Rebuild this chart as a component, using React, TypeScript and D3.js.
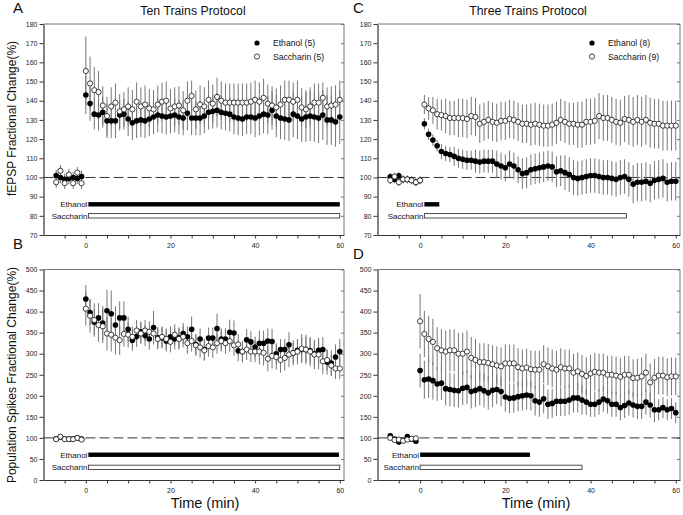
import React, { useEffect, useRef } from "react";
import * as d3 from "d3";

const FONT = "'Liberation Sans', Arial, Helvetica, sans-serif";

// ---- Panel A: Ten Trains, fEPSP ----
const aBaseTimes = [-7, -6, -5, -4, -3, -2, -1];
const aPostTimes = d3.range(0, 61);
const aEthBase = [101, 100, 99, 99.5, 100, 99.5, 100.5];
const aSacBase = [97.5, 103.5, 97, 101.5, 97, 102.5, 97];
const aEthBaseSem = [3, 3, 3, 3, 3, 3, 3];
const aSacBaseSem = [3, 3, 3, 3, 3, 3, 3];
const aEthPost = [143, 138.5, 133, 132.5, 134, 129.5, 129.5, 129.5, 132.5, 133, 130.5, 128.5, 129.5, 130, 129.5, 130.5, 131.5, 132.5, 132, 131.5, 132, 132.5, 131.5, 131, 133.5, 131, 131, 131, 132, 134, 134.5, 135, 134, 133.5, 133, 131.5, 131, 130.5, 131.5, 131.5, 131, 132, 133, 132.5, 135, 132, 131, 130.5, 130, 133, 132, 130.5, 131.5, 132, 131.5, 131, 132.5, 130, 130, 129, 131.5];
const aSacPost = [155.5, 149, 145.5, 144.5, 137.5, 132, 137, 139, 134.5, 135.5, 137, 135.5, 139.5, 137, 138, 136, 135.5, 138, 139.5, 140, 136, 137, 137.5, 135, 140, 142.5, 135.5, 138, 137, 140.5, 138.5, 142, 140, 139, 139, 139, 139, 139, 139, 139.5, 140.5, 139.5, 141.5, 138.5, 137.5, 136.5, 138, 140.5, 140.5, 139.5, 140.5, 136.5, 135.5, 137, 139, 139, 141.5, 137, 137.5, 138, 140.5];
const aEthSem = [10, 9, 8, 8, 8, 9, 9, 9, 8, 8, 9, 9, 9, 9, 9, 9, 9, 9, 9, 9, 9, 9, 9, 9, 9, 9, 9, 9, 9, 9, 9, 9, 9, 9, 9, 9, 9, 9, 9, 9, 10, 10, 10, 10, 10, 11, 11, 11, 11, 12, 12, 12, 13, 13, 13, 13, 13, 13, 13, 13, 14];
const aSacSem = [18, 14, 12, 11, 10, 10, 10, 10, 9, 9, 10, 10, 10, 10, 10, 10, 10, 10, 10, 10, 10, 10, 10, 10, 10, 8, 10, 10, 10, 10, 10, 10, 10, 10, 10, 10, 10, 10, 10, 10, 10, 10, 10, 10, 10, 10, 10, 10, 10, 10, 10, 10, 10, 10, 10, 10, 8, 10, 10, 10, 10];

// ---- Panel C: Three Trains, fEPSP ----
const cBaseTimes = [-7, -6, -5, -4, -3, -2, -1, 0];
const cPostTimes = d3.range(1, 61);
const cEthBase = [100.3, 99, 100.8, 99, 99, 98.5, 97.5, 98.5];
const cSacBase = [98.5, 100.5, 97.5, 99, 99, 98.5, 97.5, 98.5];
const cEthBaseSem = [2, 2, 2, 2, 2, 2, 2, 2];
const cSacBaseSem = [2, 2, 2, 2, 2, 2, 2, 2];
const cEthPost = [128, 122.5, 119.5, 116.5, 113.5, 112.5, 112, 111, 110, 109.5, 109, 109, 108.5, 108, 108.5, 108.5, 108.5, 107, 106, 105, 107, 106, 104, 102, 102.5, 104, 104.5, 105, 105.5, 106, 105.5, 103, 103.5, 102.5, 101.5, 100, 99.5, 100, 100.5, 101, 101, 100.5, 100, 100, 99.5, 99, 100, 100.5, 99, 96.5, 97.5, 97.5, 98, 97, 98.5, 99, 99.5, 97.5, 98, 98];
const cSacPost = [138, 136, 135, 133, 132.5, 132, 131, 131, 131, 131, 130.5, 132, 131.5, 128, 129, 130, 129, 128.5, 129.5, 129.5, 130.5, 130, 129, 128, 128, 127.5, 128, 127.5, 127, 127, 127.5, 128.5, 130, 129, 128, 128, 127.5, 127.5, 129, 129, 129.5, 132, 131, 131, 130, 129, 128.5, 130.5, 130, 129, 130, 129, 130, 128.5, 128, 128, 127, 127, 127, 127];
const cEthSem = [3, 3, 3, 3, 4, 4, 4, 5, 5, 5, 5, 5, 6, 6, 6, 6, 6, 7, 7, 7, 7, 7, 7, 8, 8, 8, 8, 8, 8, 8, 8, 8, 8, 9, 9, 9, 9, 9, 9, 9, 9, 9, 9, 9, 9, 9, 9, 9, 9, 10, 10, 10, 10, 10, 10, 10, 10, 10, 10, 10];
const cSacSem = [5, 6, 7, 8, 8, 9, 9, 9, 10, 10, 10, 10, 10, 10, 10, 10, 10, 10, 10, 10, 10, 10, 10, 10, 10, 11, 11, 11, 11, 11, 11, 11, 11, 11, 11, 11, 12, 12, 12, 12, 12, 12, 12, 12, 12, 12, 12, 12, 13, 13, 13, 13, 13, 13, 13, 13, 13, 13, 13, 13];

// ---- Panel B: Ten Trains, population spikes ----
const bBaseTimes = [-7, -6, -5, -4, -3, -2, -1];
const bPostTimes = d3.range(0, 61);
const bEthBase = [98, 102, 98, 97, 98, 100, 97];
const bSacBase = [97, 103, 97, 97, 97, 100, 96];
const bEthBaseSem = [5, 5, 5, 5, 5, 5, 5];
const bSacBaseSem = [5, 5, 5, 5, 5, 5, 5];
const bEthPost = [430, 398, 375, 385, 373, 402, 395, 368, 385, 385, 358, 332, 341, 352, 343, 335, 362, 338, 338, 330, 340, 335, 338, 348, 340, 358, 322, 335, 310, 337, 337, 360, 335, 335, 351, 349, 307, 305, 333, 328, 316, 325, 325, 330, 329, 300, 310, 310, 321, 302, 308, 310, 310, 307, 300, 308, 310, 280, 278, 292, 305];
const bSacPost = [407, 390, 380, 368, 365, 348, 345, 338, 332, 347, 345, 340, 355, 348, 355, 352, 348, 335, 340, 335, 328, 345, 335, 340, 325, 330, 320, 315, 308, 318, 315, 325, 330, 325, 330, 320, 322, 305, 310, 305, 305, 305, 302, 288, 295, 292, 285, 290, 298, 302, 305, 312, 310, 305, 298, 298, 282, 285, 272, 265, 265];
const bEthSem = [33, 30, 30, 35, 40, 50, 55, 45, 40, 40, 30, 25, 25, 25, 25, 25, 40, 25, 25, 25, 25, 25, 25, 25, 25, 30, 25, 25, 25, 25, 25, 35, 25, 25, 30, 30, 25, 25, 25, 25, 25, 30, 30, 30, 30, 25, 25, 25, 30, 25, 25, 30, 30, 30, 30, 30, 30, 30, 30, 30, 30];
const bSacSem = [40, 40, 40, 40, 40, 40, 40, 40, 35, 30, 30, 25, 25, 25, 25, 25, 25, 25, 25, 25, 25, 25, 25, 25, 25, 25, 25, 25, 25, 25, 25, 25, 25, 25, 25, 25, 25, 25, 25, 25, 25, 30, 30, 30, 30, 30, 30, 30, 30, 30, 30, 35, 35, 35, 35, 35, 30, 25, 25, 25, 25];

// ---- Panel D: Three Trains, population spikes ----
const dBaseTimes = [-7, -6, -5, -4, -3, -2, -1];
const dPostTimes = d3.range(0, 61);
const dEthBase = [105, 97, 90, 95, 103, 97, 92];
const dSacBase = [100, 95, 96, 93, 96, 98, 99];
const dEthBaseSem = [5, 5, 5, 5, 5, 5, 5];
const dSacBaseSem = [5, 5, 5, 5, 5, 5, 5];
const dEthPost = [260, 238, 240, 236, 228, 230, 217, 215, 213, 212, 218, 220, 210, 213, 217, 212, 207, 213, 215, 210, 197, 194, 195, 198, 200, 202, 200, 188, 185, 193, 180, 182, 187, 187, 187, 190, 195, 195, 190, 185, 180, 180, 185, 192, 188, 180, 180, 172, 177, 183, 178, 175, 175, 185, 178, 167, 167, 172, 167, 170, 160];
const dSacPost = [377, 347, 335, 328, 313, 308, 305, 308, 308, 300, 300, 305, 290, 285, 280, 280, 278, 275, 272, 270, 277, 277, 277, 268, 265, 267, 263, 262, 262, 275, 270, 265, 262, 268, 265, 265, 255, 258, 252, 247, 253, 257, 255, 255, 250, 250, 248, 245, 250, 250, 242, 243, 246, 255, 232, 243, 248, 248, 244, 246, 246];
const dEthSem = [40, 45, 45, 45, 40, 40, 40, 40, 40, 40, 40, 40, 40, 40, 40, 40, 40, 40, 35, 35, 35, 35, 35, 35, 35, 35, 35, 35, 35, 35, 35, 35, 35, 35, 35, 35, 35, 35, 35, 30, 30, 30, 30, 30, 30, 30, 30, 30, 30, 30, 30, 30, 30, 30, 30, 30, 25, 25, 25, 25, 25];
const dSacSem = [65, 55, 55, 55, 50, 50, 50, 50, 50, 50, 50, 50, 50, 50, 45, 45, 45, 45, 45, 45, 45, 45, 45, 45, 45, 45, 45, 45, 45, 45, 45, 45, 45, 45, 45, 45, 45, 45, 45, 45, 45, 45, 45, 45, 45, 45, 45, 45, 45, 45, 45, 45, 45, 45, 45, 45, 45, 45, 45, 45, 45];

// treatment bars: [start, end] in minutes
const aEthBar = [0.6, 60];
const aSacBar = [0.6, 60];
const cEthBar = [1, 4.5];
const cSacBar = [1, 48.4];
const bEthBar = [0.6, 59.8];
const bSacBar = [0.6, 60];
const dEthBar = [0, 25.8];
const dSacBar = [0, 38];

const fepspTicks = d3.range(70, 181, 10);
const spikeTicks = d3.range(0, 501, 50);
const timeTicks = d3.range(-5, 61, 5);

const makeSeries = (bt, pt, base, post, baseSem, postSem) =>
  bt.concat(pt).map((t, i) => ({
    t,
    m: base.concat(post)[i],
    s: baseSem.concat(postSem)[i],
  }));

const Panel = (props) => {
  const ref = useRef(null);

  useEffect(() => {
    const g = d3.select(ref.current);
    g.selectAll("*").remove();

    const x = d3.scaleLinear().domain([-10, 61]).range([props.left, props.right]);
    const y = d3.scaleLinear().domain(props.yDomain).range([props.bottom, props.top]);

    // frame: top + right in gray
    g.append("line")
      .attr("x1", props.left).attr("x2", props.right)
      .attr("y1", props.top).attr("y2", props.top)
      .attr("stroke", "#777").attr("stroke-width", 1);
    g.append("line")
      .attr("x1", props.right).attr("x2", props.right)
      .attr("y1", props.top).attr("y2", props.bottom)
      .attr("stroke", "#777").attr("stroke-width", 1);

    // right inward ticks
    g.append("g")
      .attr("transform", `translate(${props.right},0)`)
      .call(d3.axisLeft(y).tickValues(props.yTicks).tickSize(3).tickSizeOuter(0).tickFormat(""))
      .call((a) => a.select(".domain").remove())
      .call((a) => a.selectAll("line").attr("stroke", "#777"));

    // left axis
    const yAxis = g.append("g")
      .attr("transform", `translate(${props.left},0)`)
      .call(d3.axisLeft(y).tickValues(props.yTicks).tickSize(4).tickPadding(2).tickSizeOuter(0));
    yAxis.select(".domain").attr("stroke", "#333").attr("stroke-width", 1.2);
    yAxis.selectAll("line").attr("stroke", "#333");
    yAxis.selectAll("text")
      .attr("font-family", FONT).attr("font-size", 7).attr("fill", "#222");
    yAxis.attr("font-family", null).attr("font-size", null);

    // bottom axis
    const xAxis = g.append("g")
      .attr("transform", `translate(0,${props.bottom})`)
      .call(
        d3.axisBottom(x).tickValues(timeTicks).tickSize(3.5).tickPadding(5).tickSizeOuter(0)
          .tickFormat((d) => (d % 20 === 0 && d >= 0 ? String(d) : ""))
      );
    xAxis.select(".domain").attr("stroke", "#333").attr("stroke-width", 1.2);
    xAxis.selectAll("line").attr("stroke", "#333");
    xAxis.selectAll("text")
      .attr("font-family", FONT).attr("font-size", 7).attr("fill", "#222");
    xAxis.attr("font-family", null).attr("font-size", null);

    // dashed reference at 100%
    g.append("line")
      .attr("x1", props.left).attr("x2", props.right)
      .attr("y1", y(100)).attr("y2", y(100))
      .attr("stroke", "#333").attr("stroke-width", 1)
      .attr("stroke-dasharray", "10,4");

    // treatment bars
    props.bars.forEach((b) => {
      const yc = y(b.level);
      g.append("rect")
        .attr("x", x(b.range[0])).attr("width", x(b.range[1]) - x(b.range[0]))
        .attr("y", yc - 2.2).attr("height", 4.4)
        .attr("fill", b.filled ? "#000" : "#fff")
        .attr("stroke", "#222").attr("stroke-width", b.filled ? 0 : 0.8);
      g.append("text")
        .attr("x", x(b.range[0]) - 1).attr("y", yc + 2.8)
        .attr("text-anchor", "end")
        .attr("font-family", FONT).attr("font-size", 8).attr("fill", "#111")
        .text(b.label);
    });

    // error bars
    const all = props.eth.concat(props.sac);
    g.append("g").selectAll("line").data(all).enter().append("line")
      .attr("x1", (d) => x(d.t)).attr("x2", (d) => x(d.t))
      .attr("y1", (d) => y(d.m - d.s)).attr("y2", (d) => y(d.m + d.s))
      .attr("stroke", "#777").attr("stroke-width", 1);

    // points
    g.append("g").selectAll("circle").data(props.eth).enter().append("circle")
      .attr("cx", (d) => x(d.t)).attr("cy", (d) => y(d.m)).attr("r", 2.8)
      .attr("fill", "#000");
    g.append("g").selectAll("circle").data(props.sac).enter().append("circle")
      .attr("cx", (d) => x(d.t)).attr("cy", (d) => y(d.m)).attr("r", 2.6)
      .attr("fill", "#fff").attr("stroke", "#111").attr("stroke-width", 0.8);

    // legend
    if (props.legend) {
      const lg = g.append("g");
      props.legend.forEach((l, i) => {
        const ly = props.top + 19 + i * 13.5;
        lg.append("circle")
          .attr("cx", props.legendX).attr("cy", ly).attr("r", 2.6)
          .attr("fill", l.filled ? "#000" : "#fff")
          .attr("stroke", "#111").attr("stroke-width", l.filled ? 0 : 0.8);
        lg.append("text")
          .attr("x", props.legendX + 16).attr("y", ly + 3.2)
          .attr("font-family", FONT).attr("font-size", 8.6).attr("fill", "#111")
          .text(l.label);
      });
    }
  }, [props]);

  return <g ref={ref} />;
};

const App = () => {
  const serA = {
    eth: makeSeries(aBaseTimes, aPostTimes, aEthBase, aEthPost, aEthBaseSem, aEthSem),
    sac: makeSeries(aBaseTimes, aPostTimes, aSacBase, aSacPost, aSacBaseSem, aSacSem),
  };
  const serC = {
    eth: makeSeries(cBaseTimes, cPostTimes, cEthBase, cEthPost, cEthBaseSem, cEthSem),
    sac: makeSeries(cBaseTimes, cPostTimes, cSacBase, cSacPost, cSacBaseSem, cSacSem),
  };
  const serB = {
    eth: makeSeries(bBaseTimes, bPostTimes, bEthBase, bEthPost, bEthBaseSem, bEthSem),
    sac: makeSeries(bBaseTimes, bPostTimes, bSacBase, bSacPost, bSacBaseSem, bSacSem),
  };
  const serD = {
    eth: makeSeries(dBaseTimes, dPostTimes, dEthBase, dEthPost, dEthBaseSem, dEthSem),
    sac: makeSeries(dBaseTimes, dPostTimes, dSacBase, dSacPost, dSacBaseSem, dSacSem),
  };

  const letter = { fontFamily: FONT, fontSize: 15, fill: "#111" };
  const title = { fontFamily: FONT, fontSize: 12.3, fill: "#111" };
  const axisLabel = { fontFamily: FONT, fontSize: 12, fill: "#111" };

  return (
    <svg
      width={683}
      height={515}
      style={{ position: "absolute", left: 0, top: 0, background: "#fff" }}
    >
      <rect width={683} height={515} fill="#fff" />
      <text x={13} y={12.5} style={letter}>A</text>
      <text x={13} y={249} style={letter}>B</text>
      <text x={353} y={12.5} style={letter}>C</text>
      <text x={353} y={259} style={letter}>D</text>

      <text x={193} y={15} textAnchor="middle" style={title}>Ten Trains Protocol</text>
      <text x={528} y={15} textAnchor="middle" style={title}>Three Trains Protocol</text>

      <text
        transform="translate(16,118.5) rotate(-90)"
        textAnchor="middle"
        style={axisLabel}
      >
        fEPSP Fractional Change(%)
      </text>
      <text
        transform="translate(16,375) rotate(-90)"
        textAnchor="middle"
        style={axisLabel}
      >
        Population Spikes Fractional Change(%)
      </text>

      <text x={205} y={508} textAnchor="middle" style={{ ...axisLabel, fontSize: 14.5 }}>Time (min)</text>
      <text x={536} y={508} textAnchor="middle" style={{ ...axisLabel, fontSize: 14.5 }}>Time (min)</text>

      <Panel
        left={43.5} right={344} top={24} bottom={235}
        yDomain={[70, 180]} yTicks={fepspTicks}
        eth={serA.eth} sac={serA.sac}
        bars={[
          { label: "Ethanol", range: aEthBar, level: 86, filled: true },
          { label: "Saccharin", range: aSacBar, level: 80, filled: false },
        ]}
        legend={[
          { label: "Ethanol (5)", filled: true },
          { label: "Saccharin (5)", filled: false },
        ]}
        legendX={257}
      />
      <Panel
        left={377.5} right={680} top={24} bottom={235}
        yDomain={[70, 180]} yTicks={fepspTicks}
        eth={serC.eth} sac={serC.sac}
        bars={[
          { label: "Ethanol", range: cEthBar, level: 86, filled: true },
          { label: "Saccharin", range: cSacBar, level: 80, filled: false },
        ]}
        legend={[
          { label: "Ethanol (8)", filled: true },
          { label: "Saccharin (9)", filled: false },
        ]}
        legendX={592}
      />
      <Panel
        left={43.5} right={344} top={269.5} bottom={480}
        yDomain={[0, 500]} yTicks={spikeTicks}
        eth={serB.eth} sac={serB.sac}
        bars={[
          { label: "Ethanol", range: bEthBar, level: 60, filled: true },
          { label: "Saccharin", range: bSacBar, level: 30, filled: false },
        ]}
      />
      <Panel
        left={377.5} right={680} top={269.5} bottom={480}
        yDomain={[0, 500]} yTicks={spikeTicks}
        eth={serD.eth} sac={serD.sac}
        bars={[
          { label: "Ethanol", range: dEthBar, level: 60, filled: true },
          { label: "Saccharin", range: dSacBar, level: 30, filled: false },
        ]}
      />
    </svg>
  );
};

export default App;
